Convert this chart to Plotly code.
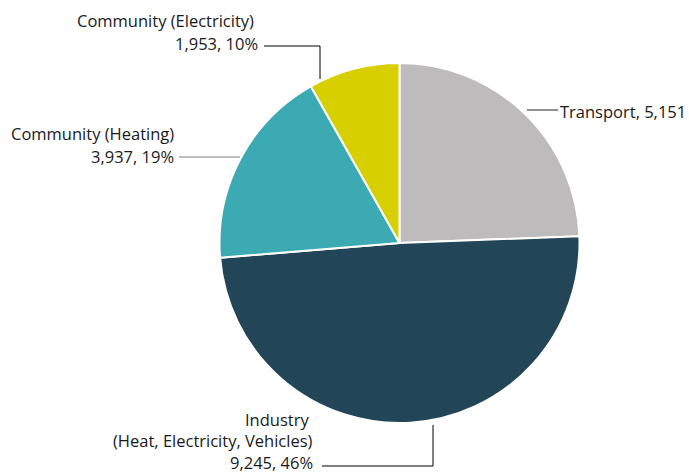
import plotly.graph_objects as go

# Data
categories = ["Transport", "Industry (Heat, Electricity, Vehicles)",
              "Community (Heating)", "Community (Electricity)"]
emissions = [5151, 9245, 3937, 1953]          # values printed in the labels
label_pct = [None, 46, 19, 10]                # percentages printed in the labels
slice_share = [24.4, 49.3, 18.1, 8.2]         # slice sizes as drawn (percent of circle)
colors = ["#bdbbbb", "#224558", "#3caab3", "#d7cf00"]

W, H = 689, 475
def px(x):
    return x / W
def py(y):
    return 1 - y / H

fig = go.Figure(go.Pie(
    labels=categories,
    values=slice_share,
    sort=False,
    direction="clockwise",
    rotation=0,
    textinfo="none",
    hoverinfo="label+value",
    marker=dict(colors=colors, line=dict(color="white", width=2)),
    domain=dict(x=[px(219.5), px(579.5)], y=[py(423), py(63)]),
    showlegend=False,
))

font = dict(family="Open Sans, sans-serif", size=16.5, color="#1a1a1a")

def fmt(v):
    return f"{v:,}"

# (text, x, y, xanchor) in reference pixel positions
lines = [
    (f"Transport, {fmt(emissions[0])}", 688, 111, "right"),
    ("Industry", 311, 419, "right"),
    ("(Heat, Electricity, Vehicles)", 315, 440, "right"),
    (f"{fmt(emissions[1])}, {label_pct[1]}%", 315, 462, "right"),
    ("Community (Heating)", 176, 133, "right"),
    (f"{fmt(emissions[2])}, {label_pct[2]}%", 176, 156, "right"),
    ("Community (Electricity)", 256, 20, "right"),
    (f"{fmt(emissions[3])}, {label_pct[3]}%", 260, 43, "right"),
]
annotations = [
    dict(x=px(x), y=py(y), text=t, xanchor=xa, yanchor="middle",
         xref="paper", yref="paper", showarrow=False, font=font)
    for t, x, y, xa in lines
]

def seg(x0, y0, x1, y1, color="black"):
    return dict(type="line", xref="paper", yref="paper",
                x0=px(x0), y0=py(y0), x1=px(x1), y1=py(y1),
                line=dict(color=color, width=1))

shapes = [
    seg(527, 110, 558, 110, "#222222"),
    seg(322, 466, 433, 466), seg(433, 466, 433, 425),
    seg(179, 157, 240, 157, "#7f7f7f"),
    seg(264, 46, 320, 46), seg(320, 46, 320, 79),
]

fig.update_layout(
    width=W, height=H,
    margin=dict(l=0, r=0, t=0, b=0),
    paper_bgcolor="white", plot_bgcolor="white",
    annotations=annotations, shapes=shapes,
)

fig.write_html(
    "out.html",
    config={"displayModeBar": False},
    post_script="document.body.style.margin='0';document.body.style.overflow='hidden';",
)
